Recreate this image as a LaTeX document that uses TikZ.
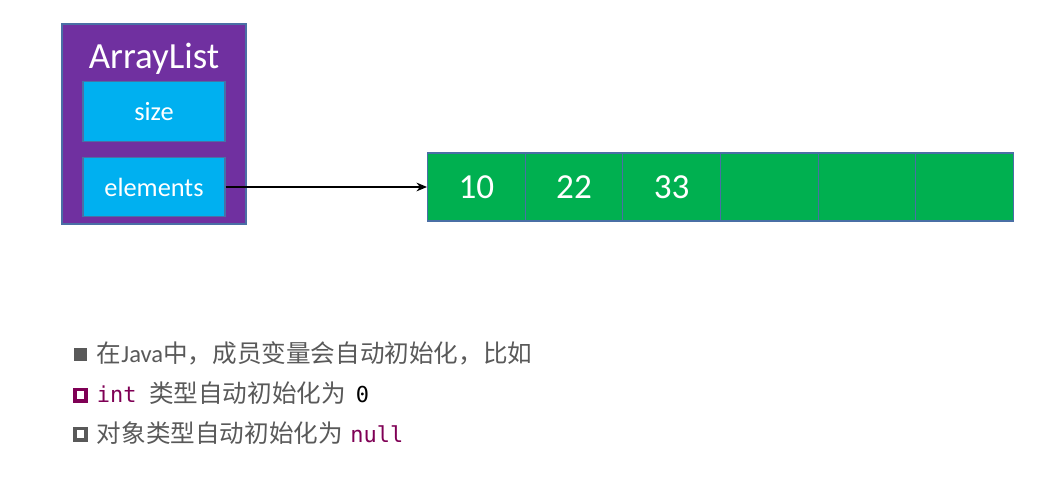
\documentclass[tikz,border=0pt]{standalone}
\usepackage{fontspec}
\setmainfont{Carlito}
\setmonofont{DejaVu Sans Mono}
\newfontfamily\cjk{Noto Sans CJK SC}
\usepackage{xcolor}
\usetikzlibrary{arrows.meta}
\definecolor{list-purple}{HTML}{7030A0}
\definecolor{field-cyan}{HTML}{00B0F0}
\definecolor{cell-green}{HTML}{00B050}
\definecolor{edge-blue}{HTML}{4A6FA5}
\definecolor{note-gray}{HTML}{595959}
\definecolor{code-maroon}{HTML}{7F0055}

\begin{document}
\begin{tikzpicture}[every node/.style={inner sep=0pt, text=white},
    field/.style={draw=edge-blue, line width=0.6pt, fill=field-cyan, minimum width=2.84cm, minimum height=1.19cm, font=\fontsize{15}{18}\selectfont},
    cell/.style={draw=edge-blue, line width=0.6pt, fill=cell-green, minimum width=1.953cm, minimum height=1.36cm, anchor=west, font=\fontsize{20}{24}\selectfont},
    note/.style={anchor=base west, text=note-gray, font=\fontsize{14}{17}\selectfont},
    mark box/.style={minimum size=0.23cm, line width=2pt}]
    \useasboundingbox (0,0) rectangle (20.92,9.54);
    \node[draw=edge-blue, line width=0.6pt, fill=list-purple, minimum width=3.68cm, minimum height=4cm] (arraylist) at (3.08,7.06) {};
    \node[font=\fontsize{21}{25}\selectfont] (title) at (3.08,8.36) {ArrayList};
    \node[field] (size) at (3.08,7.31) {size};
    \node[field] (elements) at (3.08,5.80) {elements};
    \foreach \i/\v in {0/10,1/22,2/33,3/{},4/{},5/{}}
        \node[cell] (c\i) at (8.54+1.953*\i,5.80) {\v};
    \draw[line width=0.7pt, -{Stealth[length=6pt, width=5pt]}] (elements.east) -- (c0.west);
    \node[fill=note-gray, minimum size=0.27cm] (b1) at (1.61,2.45) {};
    \node[note] (l1) at (1.93,2.28) {{\cjk 在}Java{\cjk 中，成员变量会自动初始化，比如}};
    \node[mark box, draw=code-maroon] (b2) at (1.61,1.63) {};
    \node[note] (l2) at (1.93,1.48) {{\ttfamily\fontsize{12.5}{15}\selectfont\color{code-maroon}int}\hspace{0.25cm}{\cjk 类型自动初始化为}\hspace{0.2cm}{\ttfamily\fontsize{12.5}{15}\selectfont\color{black}0}};
    \node[mark box, draw=note-gray] (b3) at (1.61,0.85) {};
    \node[note] (l3) at (1.93,0.68) {{\cjk 对象类型自动初始化为}\hspace{0.15cm}{\ttfamily\fontsize{12.5}{15}\selectfont\color{code-maroon}null}};
\end{tikzpicture}
\end{document}
